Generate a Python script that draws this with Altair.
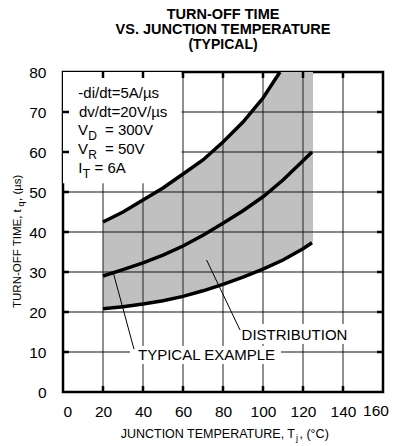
import altair as alt
import pandas as pd

FONT = "Liberation Sans"

# ---- data ----
curve_t = [20, 30, 40, 50, 60, 70, 80, 90, 100, 110, 120, 124.5]
typical = [29, 30.6, 32.3, 34.2, 36.5, 39.2, 42.2, 45.3, 48.8, 53, 57.8, 60]
lower = [20.8, 21.3, 22, 22.8, 23.9, 25.3, 26.9, 28.7, 30.7, 33, 35.8, 37.3]
upper_t = [20, 30, 40, 50, 60, 70, 80, 90, 100, 108.5]
upper = [42.5, 45, 48, 51, 54.5, 58, 62.5, 67.5, 73.5, 80]
band_t = [20, 30, 40, 50, 60, 70, 80, 90, 100, 108.5, 110, 120, 125]
band_lo = [20.8, 21.3, 22, 22.8, 23.9, 25.3, 26.9, 28.7, 30.7, 32.6, 33, 35.8, 37.5]
band_hi = [42.5, 45, 48, 51, 54.5, 58, 62.5, 67.5, 73.5, 80, 80, 80, 80]

x_ticks = [0, 20, 40, 60, 80, 100, 120, 140, 160]
y_ticks = [0, 10, 20, 30, 40, 50, 60, 70, 80]
x_inner = x_ticks[1:-1]
y_inner = y_ticks[1:-1]

title_lines = ["TURN-OFF TIME", "VS. JUNCTION TEMPERATURE", "(TYPICAL)"]

# annotation table (text, T, value) in data coordinates
note_text = ["-di/dt=5A/\u00b5s", "dv/dt=20V/\u00b5s", "V", "= 300V", "V", "= 50V", "I", "= 6A",
             "DISTRIBUTION", "TYPICAL EXAMPLE"]
note_t = [7.65, 8, 7.5, 21.0, 7.5, 21.0, 7.65, 15.8, 89.3, 37.5]
note_v = [73.4, 68.8, 64.25, 64.25, 59.4, 59.4, 54.8, 54.8, 13, 8]
sub_text = ["D", "R", "T"]
sub_t = [12.6, 12.6, 9.9]
sub_v = [64.25, 59.4, 54.8]

# white backgrounds behind annotations
box_t1 = [0, 0, 88, 33.5]
box_t2 = [59.3, 50, 143, 109]
box_v1 = [55, 52.2, 12, 7]
box_v2 = [80, 55, 17, 11.5]

# leader lines
lead_t1 = [71.8, 25.2]
lead_v1 = [33, 29.7]
lead_t2 = [88.5, 35.5]
lead_v2 = [15.5, 10.7]

W, H = 320, 320
LABEL_SIZE = 15.5
LABEL_PAD = 12

xscale = alt.Scale(domain=[0, 160], nice=False, zero=False)
yscale = alt.Scale(domain=[0, 80], nice=False, zero=False)
xaxis = alt.Axis(values=x_ticks, grid=False, ticks=False, tickSize=0, domain=False,
                 labelFontSize=LABEL_SIZE, labelFont=FONT, labelColor="black",
                 labelPadding=LABEL_PAD, labelOverlap=False, labelBound=False, format="d",
                 labelExpr="datum.value == 160 ? '' : datum.label")
yaxis = alt.Axis(values=y_ticks, grid=False, ticks=False, tickSize=0, domain=False,
                 labelFontSize=LABEL_SIZE, labelFont=FONT, labelColor="black", labelPadding=17,
                 labelOverlap=False, labelBound=False, format="d")


def X(f):
    return alt.X(f, type="quantitative", scale=xscale, axis=xaxis, title=None)


def Y(f):
    return alt.Y(f, type="quantitative", scale=yscale, axis=yaxis, title=None)


band_df = pd.DataFrame({"t": band_t, "lo": band_lo, "hi": band_hi})
band = alt.Chart(band_df).mark_area(color="#c0c0c0", opacity=1).encode(
    x=X("t"), y=Y("lo"), y2="hi")

vgrid = alt.Chart(pd.DataFrame({"t": x_inner})).mark_rule(color="#222", strokeWidth=1).encode(
    x=X("t"), y=alt.value(0), y2=alt.value(H))
hgrid = alt.Chart(pd.DataFrame({"v": y_inner})).mark_rule(color="#111", strokeWidth=1).encode(
    y=Y("v"), x=alt.value(0), x2=alt.value(W))

box_df = pd.DataFrame({"t1": box_t1, "t2": box_t2, "v1": box_v1, "v2": box_v2})
boxes = alt.Chart(box_df).mark_rect(color="white", opacity=1).encode(
    x=X("t1"), x2="t2", y=Y("v1"), y2="v2")

tw = 2.5
tl = 6
xt_df = pd.DataFrame({"t": x_inner})
yt_df = pd.DataFrame({"v": y_inner})
tick_b = alt.Chart(xt_df).mark_rule(color="black", strokeWidth=tw).encode(
    x=X("t"), y=alt.value(H), y2=alt.value(H - tl))
tick_t = alt.Chart(xt_df).mark_rule(color="black", strokeWidth=tw).encode(
    x=X("t"), y=alt.value(0), y2=alt.value(tl))
tick_l = alt.Chart(yt_df).mark_rule(color="black", strokeWidth=tw).encode(
    y=Y("v"), x=alt.value(0), x2=alt.value(tl))
tick_r = alt.Chart(yt_df).mark_rule(color="black", strokeWidth=tw).encode(
    y=Y("v"), x=alt.value(W), x2=alt.value(W - tl))

curves_df = pd.DataFrame({"t": curve_t, "typ": typical, "low": lower})
line_typ = alt.Chart(curves_df).mark_line(color="black", strokeWidth=3.5).encode(
    x=X("t"), y=Y("typ"))
line_low = alt.Chart(curves_df).mark_line(color="black", strokeWidth=3.5).encode(
    x=X("t"), y=Y("low"))
line_up = alt.Chart(pd.DataFrame({"t": upper_t, "up": upper})).mark_line(
    color="black", strokeWidth=3.5).encode(x=X("t"), y=Y("up"))

lead_df = pd.DataFrame({"t1": lead_t1, "v1": lead_v1, "t2": lead_t2, "v2": lead_v2})
leaders = alt.Chart(lead_df).mark_rule(color="black", strokeWidth=1).encode(
    x=X("t1"), y=Y("v1"), x2="t2", y2="v2")

notes = alt.Chart(pd.DataFrame({"s": note_text, "t": note_t, "v": note_v})).mark_text(
    font=FONT, fontSize=15, align="left", baseline="alphabetic", color="black").encode(
    x=X("t"), y=Y("v"), text="s:N")
subs = alt.Chart(pd.DataFrame({"s": sub_text, "t": sub_t, "v": sub_v})).mark_text(
    font=FONT, fontSize=12, align="left", baseline="alphabetic", color="black", dy=5).encode(
    x=X("t"), y=Y("v"), text="s:N")

# last x tick label, nudged inward as in the reference
last_label = alt.Chart(pd.DataFrame({"t": [x_ticks[-1]], "s": [str(x_ticks[-1])]})).mark_text(
    font=FONT, fontSize=LABEL_SIZE, align="center", baseline="top", color="black", dx=-7).encode(
    x=X("t"), y=alt.value(H + LABEL_PAD), text="s:N")


def ptext(s, x, y, size, bold=False, align="center", angle=0):
    return alt.Chart(alt.Data(values=[{"a": 1}])).mark_text(
        text=s, font=FONT, fontSize=size, fontWeight="bold" if bold else "normal",
        align=align, baseline="alphabetic", angle=angle, color="black"
    ).encode(x=alt.value(x), y=alt.value(y))


titles = [ptext(title_lines[0], 160, -53, 14.5, bold=True),
          ptext(title_lines[1], 160, -38.5, 14.5, bold=True),
          ptext(title_lines[2], 160, -23.5, 14, bold=True)]

xtitle = [ptext("JUNCTION TEMPERATURE, T", 232, 366, 12.5, align="right"),
          ptext("j", 233, 369, 9, align="left"),
          ptext(", (\u00b0C)", 236.5, 366, 12.5, align="left")]

ytitle = [ptext("TURN-OFF TIME, t", -42.3, 236, 11.5, align="left", angle=270),
          ptext("q", -39.5, 134.5, 9, align="left", angle=270),
          ptext(", (\u00b5s)", -42.3, 129, 11.5, align="left", angle=270)]

chart = alt.layer(
    band, vgrid, hgrid, boxes, tick_b, tick_t, tick_l, tick_r,
    line_typ, line_low, line_up, leaders, notes, subs, last_label,
    *titles, *xtitle, *ytitle
).properties(
    width=W, height=H,
    padding={"left": 63, "top": 72, "right": 17, "bottom": 54},
    autosize=alt.AutoSizeParams(type="none"),
    background="white",
).configure_view(stroke="black", strokeWidth=2.5)

chart.save("out.html", embed_options={"renderer": "svg", "actions": False})
